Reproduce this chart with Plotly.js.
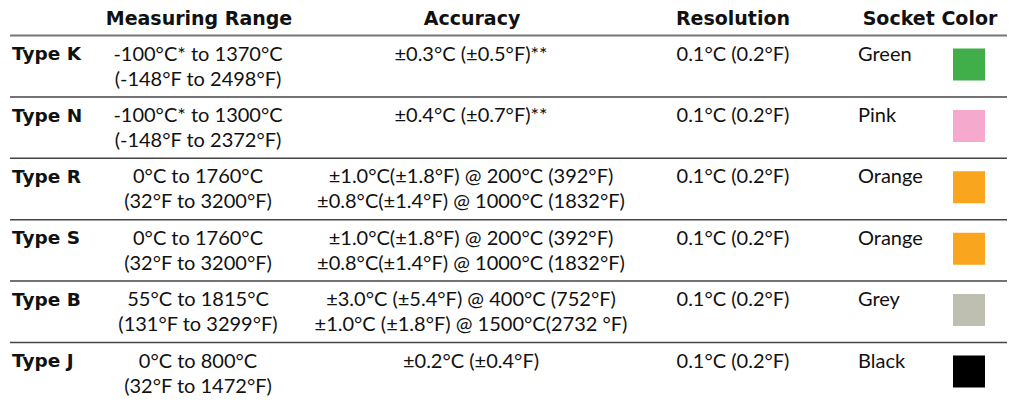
<!DOCTYPE html>
<html>
<head>
<meta charset="utf-8">
<script src="https://cdn.plot.ly/plotly-3.0.1.min.js"></script>
<style>html,body{margin:0;padding:0;background:#fff}#chart{width:1016px;height:402px}</style>
</head>
<body>
<div id="chart"></div>
<script>
const headers = ["Measuring Range", "Accuracy", "Resolution", "Socket Color"];
const types = ["Type K", "Type N", "Type R", "Type S", "Type B", "Type J"];
const rangeC = ["-100°C* to 1370°C", "-100°C* to 1300°C", "0°C to 1760°C", "0°C to 1760°C", "55°C to 1815°C", "0°C to 800°C"];
const rangeF = ["(-148°F to 2498°F)", "(-148°F to 2372°F)", "(32°F to 3200°F)", "(32°F to 3200°F)", "(131°F to 3299°F)", "(32°F to 1472°F)"];
const accuracy1 = ["±0.3°C (±0.5°F)**", "±0.4°C (±0.7°F)**", "±1.0°C(±1.8°F) @ 200°C (392°F)", "±1.0°C(±1.8°F) @ 200°C (392°F)", "±3.0°C (±5.4°F) @ 400°C (752°F)", "±0.2°C (±0.4°F)"];
const accuracy2 = ["", "", "±0.8°C(±1.4°F) @ 1000°C (1832°F)", "±0.8°C(±1.4°F) @ 1000°C (1832°F)", "±1.0°C (±1.8°F) @ 1500°C(2732 °F)", ""];
const resolution = ["0.1°C (0.2°F)", "0.1°C (0.2°F)", "0.1°C (0.2°F)", "0.1°C (0.2°F)", "0.1°C (0.2°F)", "0.1°C (0.2°F)"];
const socketNames = ["Green", "Pink", "Orange", "Orange", "Grey", "Black"];
const socketColors = ["#40ae49", "#f5aacd", "#f9a61e", "#f9a61e", "#bfbfb1", "#000000"];

// layout geometry (pixel coordinate axes)
const FONT = "Lato, 'Open Sans', sans-serif";
const BOLD = "'DejaVu Sans', sans-serif";
const TXT = "#111";
const headerY = 20, headerLineY = 35.5, rowH = 61.4;
const rowTop = i => headerLineY + i * rowH;
const L1 = 20, L2 = 45;
const colX = {type: 12, range: 198, acc: 471, res: 733, sockName: 858, sq: 969};
const headerX = [199, 472, 733, 930];

const idx = types.map((_, i) => i);
const y1 = idx.map(i => rowTop(i) + L1);
const y2 = idx.map(i => rowTop(i) + L2);
const bodyFont = {family: FONT, size: 20, color: TXT};

const traces = [
  {x: headerX, y: headers.map(() => headerY), text: headers.map(h => "<b>" + h + "</b>"), mode: "text", textposition: "middle center", textfont: {family: BOLD, size: 19, color: TXT}},
  {x: idx.map(() => colX.type), y: y1, text: types.map(t => "<b>" + t + "</b>"), mode: "text", textposition: "middle right", textfont: {family: BOLD, size: 18.5, color: TXT}},
  {x: idx.map(() => colX.range), y: y1, text: rangeC, mode: "text", textposition: "middle center", textfont: bodyFont},
  {x: idx.map(() => colX.range), y: y2, text: rangeF, mode: "text", textposition: "middle center", textfont: bodyFont},
  {x: idx.map(() => colX.acc), y: y1, text: accuracy1, mode: "text", textposition: "middle center", textfont: bodyFont},
  {x: idx.map(() => colX.acc), y: y2, text: accuracy2, mode: "text", textposition: "middle center", textfont: bodyFont},
  {x: idx.map(() => colX.res), y: y1, text: resolution, mode: "text", textposition: "middle center", textfont: bodyFont},
  {x: idx.map(() => colX.sockName), y: y1, text: socketNames, mode: "text", textposition: "middle right", textfont: bodyFont},
  {x: idx.map(() => colX.sq), y: idx.map(i => rowTop(i) + 29), mode: "markers", marker: {symbol: "square", size: 32, color: socketColors, line: {width: 0}}}
].map(t => Object.assign({type: "scatter", hoverinfo: "skip", showlegend: false, cliponaxis: false}, t));

const shapes = [{type: "line", x0: 10, x1: 1007, y0: headerLineY, y1: headerLineY, line: {color: "#777", width: 2}}];
for (let i = 1; i < types.length; i++) {
  shapes.push({type: "line", x0: 10, x1: 1007, y0: rowTop(i), y1: rowTop(i), line: {color: "#444", width: 1.5}});
}

const layout = {
  width: 1016, height: 402,
  margin: {l: 0, r: 0, t: 0, b: 0, pad: 0},
  paper_bgcolor: "#fff", plot_bgcolor: "#fff",
  xaxis: {range: [0, 1016], visible: false, fixedrange: true},
  yaxis: {range: [402, 0], visible: false, fixedrange: true},
  shapes: shapes,
  showlegend: false
};
Plotly.newPlot("chart", traces, layout, {displayModeBar: false, staticPlot: true});
</script>
</body>
</html>
